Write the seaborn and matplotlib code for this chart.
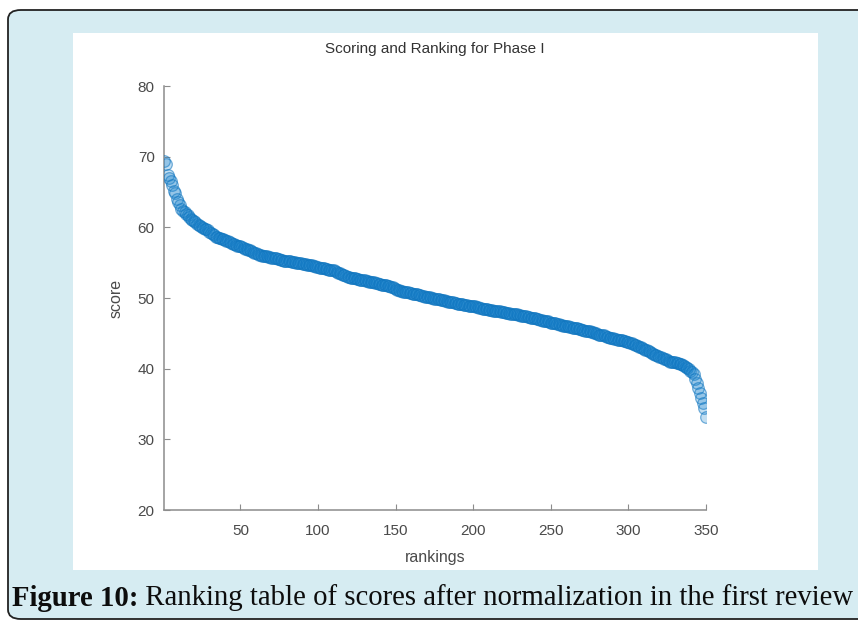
import matplotlib
matplotlib.use("Agg")
import matplotlib.pyplot as plt
from matplotlib.patches import FancyBboxPatch, Rectangle
import numpy as np
import pandas as pd
import seaborn as sns

# Normalized scores, sorted by ranking (rank 1 = best)
scores = [
    69.4, 69.0, 67.4, 67.0, 66.5, 66.0, 65.2, 64.8, 64.0, 63.6,
    63.1, 62.6, 62.3, 62.1, 61.9, 61.8, 61.5, 61.2, 61.0, 60.9,
    60.7, 60.5, 60.4, 60.2, 60.1, 59.9, 59.8, 59.7, 59.6, 59.4,
    59.2, 59.0, 58.9, 58.7, 58.6, 58.5, 58.5, 58.4, 58.3, 58.2,
    58.1, 58.0, 57.9, 57.8, 57.7, 57.6, 57.5, 57.4, 57.3, 57.3,
    57.2, 57.1, 57.0, 56.9, 56.8, 56.8, 56.7, 56.5, 56.4, 56.3,
    56.2, 56.1, 56.1, 56.0, 56.0, 55.9, 55.9, 55.8, 55.8, 55.7,
    55.7, 55.6, 55.6, 55.5, 55.5, 55.4, 55.4, 55.3, 55.3, 55.3,
    55.2, 55.2, 55.1, 55.1, 55.1, 55.0, 55.0, 54.9, 54.9, 54.8,
    54.8, 54.8, 54.7, 54.7, 54.6, 54.6, 54.5, 54.5, 54.4, 54.4,
    54.3, 54.3, 54.2, 54.2, 54.1, 54.1, 54.0, 54.0, 53.9, 53.9,
    53.8, 53.7, 53.6, 53.5, 53.4, 53.3, 53.2, 53.1, 53.0, 53.0,
    52.9, 52.9, 52.8, 52.8, 52.7, 52.7, 52.6, 52.6, 52.5, 52.5,
    52.4, 52.4, 52.3, 52.3, 52.2, 52.2, 52.1, 52.1, 52.0, 52.0,
    51.9, 51.9, 51.8, 51.8, 51.7, 51.7, 51.6, 51.5, 51.4, 51.3,
    51.2, 51.1, 51.0, 51.0, 50.9, 50.9, 50.8, 50.8, 50.7, 50.7,
    50.6, 50.6, 50.5, 50.5, 50.4, 50.4, 50.3, 50.3, 50.2, 50.2,
    50.1, 50.1, 50.0, 50.0, 49.9, 49.9, 49.8, 49.8, 49.7, 49.7,
    49.7, 49.6, 49.6, 49.5, 49.5, 49.4, 49.4, 49.3, 49.3, 49.2,
    49.2, 49.1, 49.1, 49.0, 49.0, 49.0, 48.9, 48.9, 48.9, 48.8,
    48.8, 48.7, 48.7, 48.6, 48.6, 48.5, 48.5, 48.4, 48.4, 48.3,
    48.3, 48.3, 48.2, 48.2, 48.1, 48.1, 48.1, 48.0, 48.0, 48.0,
    47.9, 47.9, 47.9, 47.8, 47.8, 47.8, 47.7, 47.7, 47.6, 47.6,
    47.5, 47.5, 47.4, 47.4, 47.3, 47.3, 47.2, 47.2, 47.1, 47.1,
    47.0, 47.0, 46.9, 46.9, 46.8, 46.8, 46.7, 46.7, 46.6, 46.5,
    46.5, 46.4, 46.4, 46.3, 46.3, 46.2, 46.2, 46.1, 46.1, 46.0,
    46.0, 45.9, 45.9, 45.8, 45.8, 45.7, 45.7, 45.6, 45.6, 45.5,
    45.5, 45.4, 45.4, 45.3, 45.3, 45.2, 45.2, 45.1, 45.0, 44.9,
    44.8, 44.8, 44.7, 44.7, 44.6, 44.5, 44.5, 44.4, 44.4, 44.3,
    44.2, 44.2, 44.1, 44.1, 44.0, 44.0, 43.9, 43.9, 43.8, 43.8,
    43.7, 43.6, 43.5, 43.4, 43.3, 43.2, 43.1, 43.0, 42.9, 42.8,
    42.7, 42.6, 42.5, 42.4, 42.2, 42.1, 42.0, 41.9, 41.8, 41.7,
    41.6, 41.5, 41.4, 41.3, 41.2, 41.1, 41.0, 41.0, 40.9, 40.9,
    40.8, 40.8, 40.7, 40.6, 40.5, 40.4, 40.3, 40.1, 39.9, 39.7,
    39.5, 39.2, 38.6, 38.0, 37.2, 36.6, 35.9, 35.2, 34.5, 33.1,
]
rankings = list(range(1, len(scores) + 1))

x_ticks = [50, 100, 150, 200, 250, 300, 350]
y_ticks = [20, 30, 40, 50, 60, 70, 80]

title_text = "Scoring and Ranking for Phase I"
x_label = "rankings"
y_label = "score"
caption_bold = "Figure 10:"
caption_rest = " Ranking table of scores after normalization in the first review"

df = pd.DataFrame({"rankings": rankings, "score": scores})

sns.set_theme(style="white")
plt.rcParams["font.family"] = ["Liberation Sans", "DejaVu Sans"]

W, H = 858, 621
fig = plt.figure(figsize=(W / 100, H / 100), dpi=100)
fig.patch.set_facecolor("white")

# Light blue caption frame with rounded corners
frame = FancyBboxPatch((8 / W, (H - 619) / H), (W + 20) / W, (619 - 10) / H,
                       boxstyle="round,pad=0,rounding_size=0.015",
                       transform=fig.transFigure, facecolor="#d6ecf2",
                       edgecolor="#222222", linewidth=1.3, zorder=-2)
fig.patches.append(frame)

# White panel holding the plot
panel = Rectangle((73 / W, (H - 570) / H), (818 - 73) / W, (570 - 33) / H,
                  transform=fig.transFigure, facecolor="white",
                  edgecolor="none", zorder=-1)
fig.patches.append(panel)

ax = fig.add_axes([164.4 / W, (H - 510) / H, (706 - 164.4) / W, (510 - 86) / H])
ax.set_facecolor("none")

sns.scatterplot(data=df, x="rankings", y="score", ax=ax,
                s=70, marker="o",
                facecolor=(0.08, 0.50, 0.80, 0.26),
                edgecolor=(0.06, 0.46, 0.75, 0.55),
                linewidth=0.9, legend=False, zorder=3)

ax.set_xlim(1, 350)
ax.set_ylim(20, 80)
ax.set_xticks(x_ticks)
ax.set_yticks(y_ticks)

axis_grey = "#8c8c8c"
text_grey = "#4a4a4a"
for side in ["top", "right"]:
    ax.spines[side].set_visible(False)
for side in ["left", "bottom"]:
    ax.spines[side].set_color(axis_grey)
    ax.spines[side].set_linewidth(1.1)

ax.tick_params(axis="both", direction="in", length=4, width=0.8,
               color=axis_grey, labelcolor=text_grey, labelsize=11,
               left=True, bottom=True)
ax.tick_params(axis="x", pad=10)
ax.tick_params(axis="y", pad=7)

ax.set_title(title_text, fontsize=11, color="#333333", pad=24)
ax.set_xlabel(x_label, fontsize=11.5, color=text_grey, labelpad=9)
ax.set_ylabel(y_label, fontsize=11.5, color=text_grey, labelpad=10)

# Caption below the panel: bold label followed by regular text
cap_y = (H - 598) / H
cap_font = ["Liberation Serif", "DejaVu Serif"]
cap_size = 20.7
t1 = fig.text(12 / W, cap_y, caption_bold, fontsize=cap_size, fontweight="bold",
              family=cap_font, va="center", ha="left", color="#0d0d0d")
fig.canvas.draw()
bb = t1.get_window_extent(renderer=fig.canvas.get_renderer())
fig.text(bb.x1 / W, cap_y, caption_rest, fontsize=cap_size, family=cap_font,
         va="center", ha="left", color="#0d0d0d")

fig.savefig("out.png", dpi=100, facecolor="white")
